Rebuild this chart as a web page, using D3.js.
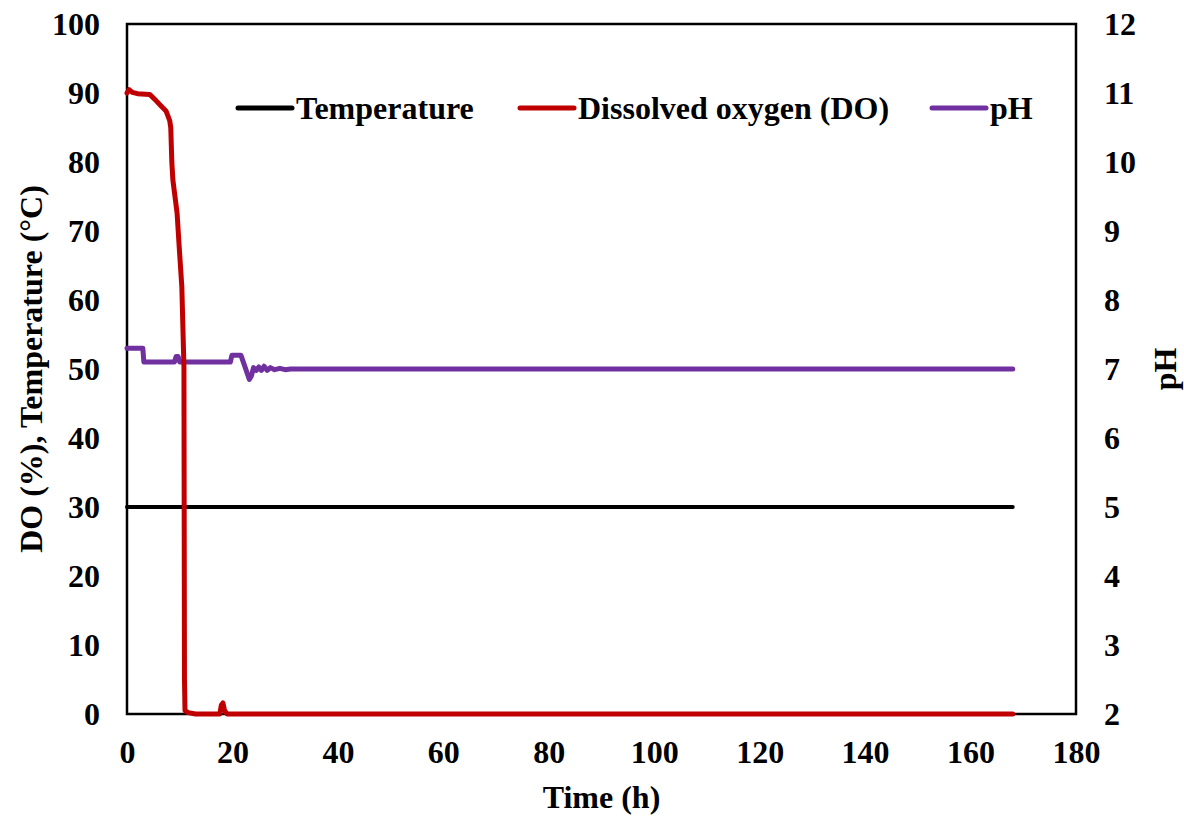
<!DOCTYPE html>
<html>
<head>
<meta charset="utf-8">
<script src="https://cdn.jsdelivr.net/npm/d3@7"></script>
<style>
  body { margin: 0; background: #fff; }
  text { font-family: "Liberation Serif", "Times New Roman", serif; font-weight: bold; }
</style>
</head>
<body>
<div id="chart"></div>
<script>
// Fermentation profile: DO, temperature and pH over time

// time (h) / DO (%) pairs
const doTime = [0, 0.4, 1, 2, 4.3, 5.5, 6.6, 7.4, 8.1, 8.3, 8.5, 8.7, 9.5, 9.9, 10.4, 10.6, 10.8, 10.9, 11.0, 11.6, 13, 17.6, 17.9, 18.2, 18.5, 19, 168];
const doValue = [90.0, 90.5, 90.1, 89.9, 89.8, 88.9, 88.0, 87.4, 86.0, 85.0, 80.0, 77.4, 72.6, 67.7, 61.9, 56.1, 50.3, 5, 0.5, 0.2, 0, 0, 1.3, 1.6, 0.5, 0, 0];

// temperature held constant
const tempTime = [0, 168];
const tempValue = [30, 30];

// pH (right axis)
const phTime = [0, 3.0, 3.2, 9.0, 9.3, 9.7, 10.0, 19.6, 19.9, 21.6, 22.3, 23.2, 23.6, 24.0, 24.5, 25, 25.5, 26, 26.6, 27.2, 28, 29, 30, 31, 168];
const phValue = [7.3, 7.3, 7.1, 7.1, 7.18, 7.18, 7.1, 7.1, 7.2, 7.2, 7.05, 6.85, 6.9, 7.02, 6.98, 7.03, 6.98, 7.04, 6.98, 7.02, 6.99, 7.01, 6.99, 7.0, 7.0];

const xTicks = [0, 20, 40, 60, 80, 100, 120, 140, 160, 180];
const yLeftTicks = [0, 10, 20, 30, 40, 50, 60, 70, 80, 90, 100];
const yRightTicks = [2, 3, 4, 5, 6, 7, 8, 9, 10, 11, 12];

const legendNames = ["Temperature", "Dissolved oxygen (DO)", "pH"];
const colors = {temp: "#000000", do: "#c00000", ph: "#7030a0"};

const width = 1184, height = 816;
const margin = {top: 24, right: 108, bottom: 102, left: 127};
const fs = 32;

const svg = d3.select("#chart").append("svg")
    .attr("width", width)
    .attr("height", height);

const x = d3.scaleLinear().domain([0, 180]).range([margin.left, width - margin.right]);
const yL = d3.scaleLinear().domain([0, 100]).range([height - margin.bottom, margin.top]);
const yR = d3.scaleLinear().domain([2, 12]).range([height - margin.bottom, margin.top]);

// axes without tick marks, just labels
function styleTicks(g) {
    g.select(".domain").remove();
    g.selectAll("text").attr("font-size", fs).attr("fill", "#000")
        .attr("font-family", "Liberation Serif").attr("font-weight", "bold");
}

svg.append("g")
    .attr("transform", `translate(0,${height - margin.bottom})`)
    .call(d3.axisBottom(x).tickValues(xTicks).tickSize(0).tickPadding(26))
    .call(styleTicks);

svg.append("g")
    .attr("transform", `translate(${margin.left},0)`)
    .call(d3.axisLeft(yL).tickValues(yLeftTicks).tickSize(0).tickPadding(27))
    .call(styleTicks);

svg.append("g")
    .attr("transform", `translate(${width - margin.right},0)`)
    .call(d3.axisRight(yR).tickValues(yRightTicks).tickSize(0).tickPadding(28))
    .call(styleTicks);

// plot frame
svg.append("rect")
    .attr("x", x(0)).attr("y", yL(100))
    .attr("width", x(180) - x(0)).attr("height", yL(0) - yL(100))
    .attr("fill", "none").attr("stroke", "#000").attr("stroke-width", 2.5);

const zip = (a, b) => a.map((t, i) => [t, b[i]]);

const lineL = d3.line().x(d => x(d[0])).y(d => yL(d[1]));
const lineR = d3.line().x(d => x(d[0])).y(d => yR(d[1]));

svg.append("path")
    .datum(zip(tempTime, tempValue))
    .attr("d", lineL)
    .attr("fill", "none").attr("stroke", colors.temp).attr("stroke-width", 4)
    .attr("stroke-linecap", "round");

svg.append("path")
    .datum(zip(phTime, phValue))
    .attr("d", lineR)
    .attr("fill", "none").attr("stroke", colors.ph).attr("stroke-width", 5)
    .attr("stroke-linejoin", "round").attr("stroke-linecap", "round");

svg.append("path")
    .datum(zip(doTime, doValue))
    .attr("d", lineL)
    .attr("fill", "none").attr("stroke", colors.do).attr("stroke-width", 5)
    .attr("stroke-linejoin", "round").attr("stroke-linecap", "round");

// legend
const legendX = [238, 520, 932];
const legendColors = [colors.temp, colors.do, colors.ph];
const legend = svg.append("g");
legendNames.forEach((name, i) => {
    legend.append("line")
        .attr("x1", legendX[i]).attr("x2", legendX[i] + 54)
        .attr("y1", 108).attr("y2", 108)
        .attr("stroke", legendColors[i]).attr("stroke-width", 5)
        .attr("stroke-linecap", "round");
    legend.append("text")
        .attr("x", legendX[i] + 58).attr("y", 119)
        .attr("font-size", fs)
        .text(name);
});

// axis titles
svg.append("text")
    .attr("x", x(90)).attr("y", 808)
    .attr("text-anchor", "middle").attr("font-size", fs)
    .text("Time (h)");

svg.append("text")
    .attr("transform", `translate(42,${yL(50)}) rotate(-90)`)
    .attr("text-anchor", "middle").attr("font-size", fs)
    .text("DO (%), Temperature (°C)");

svg.append("text")
    .attr("transform", `translate(1176,${yL(50)}) rotate(-90)`)
    .attr("text-anchor", "middle").attr("font-size", fs)
    .text("pH");
</script>
</body>
</html>
